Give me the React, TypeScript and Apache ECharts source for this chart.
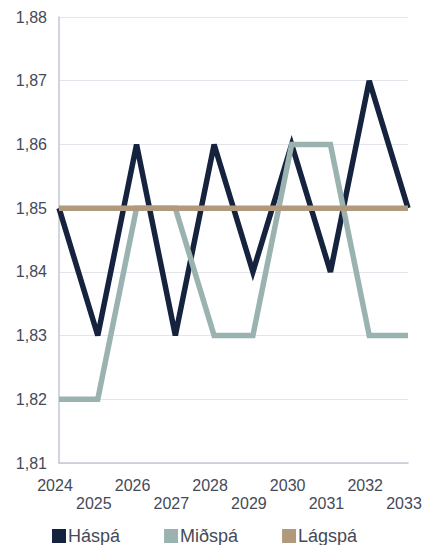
import React, { useEffect, useRef } from "react";
import * as echarts from "echarts";

const years = ["2024", "2025", "2026", "2027", "2028", "2029", "2030", "2031", "2032", "2033"];
const haspa = [1.85, 1.83, 1.86, 1.83, 1.86, 1.84, 1.86, 1.84, 1.87, 1.85];
const midspa = [1.82, 1.82, 1.85, 1.85, 1.83, 1.83, 1.86, 1.86, 1.83, 1.83];
const lagspa = [1.85, 1.85, 1.85, 1.85, 1.85, 1.85, 1.85, 1.85, 1.85, 1.85];

const FONT = "'Liberation Sans', Arial, sans-serif";
const TXT = "#454a58";

export default function App() {
  const ref = useRef<HTMLDivElement>(null);
  useEffect(() => {
    if (!ref.current) return;
    const chart = echarts.init(ref.current, undefined, { renderer: "svg" });
    const line = (name: string, data: number[], color: string) => ({
      name,
      type: "line",
      data,
      symbol: "none",
      lineStyle: { color, width: 5.5, join: "miter" },
      itemStyle: { color },
    });
    chart.setOption({
      animation: false,
      grid: { left: 59, right: 28, top: 17, bottom: 82 },
      legend: {
        top: 527,
        left: 52,
        padding: 0,
        itemWidth: 14,
        itemHeight: 14,
        itemGap: 44,
        icon: "rect",
        textStyle: {
          fontFamily: FONT,
          fontSize: 18,
          lineHeight: 14,
          color: TXT,
          padding: [0, 0, 0, -3],
        },
        data: ["Háspá", "Miðspá", "Lágspá"],
      },
      xAxis: {
        type: "category",
        data: years,
        boundaryGap: false,
        axisLine: { lineStyle: { color: "#c4c6d6", width: 1.5 } },
        axisTick: { show: false },
        axisLabel: {
          interval: 0,
          margin: 13,
          fontFamily: FONT,
          fontSize: 16,
          color: TXT,
          lineHeight: 18,
          padding: [0, 8, 0, 0],
          formatter: (v: string, i: number) => (i % 2 === 1 ? "\n" + v : v),
        },
        splitLine: { show: false },
      },
      yAxis: {
        type: "value",
        min: 1.81,
        max: 1.88,
        interval: 0.01,
        axisLine: { show: true, lineStyle: { color: "#c4c6d6", width: 1.5 } },
        axisTick: { show: false },
        axisLabel: {
          margin: 12,
          fontFamily: FONT,
          fontSize: 16,
          color: TXT,
          formatter: (v: number) => v.toFixed(2).replace(".", ","),
        },
        splitLine: { lineStyle: { color: "#e3e4ec", width: 1 } },
      },
      series: [
        line("Háspá", haspa, "#15233f"),
        line("Miðspá", midspa, "#9bb3b0"),
        line("Lágspá", lagspa, "#b09a7b"),
      ],
    });
    return () => chart.dispose();
  }, []);
  return (
    <div
      ref={ref}
      style={{ position: "absolute", left: 0, top: 0, width: 436, height: 545 }}
    />
  );
}
